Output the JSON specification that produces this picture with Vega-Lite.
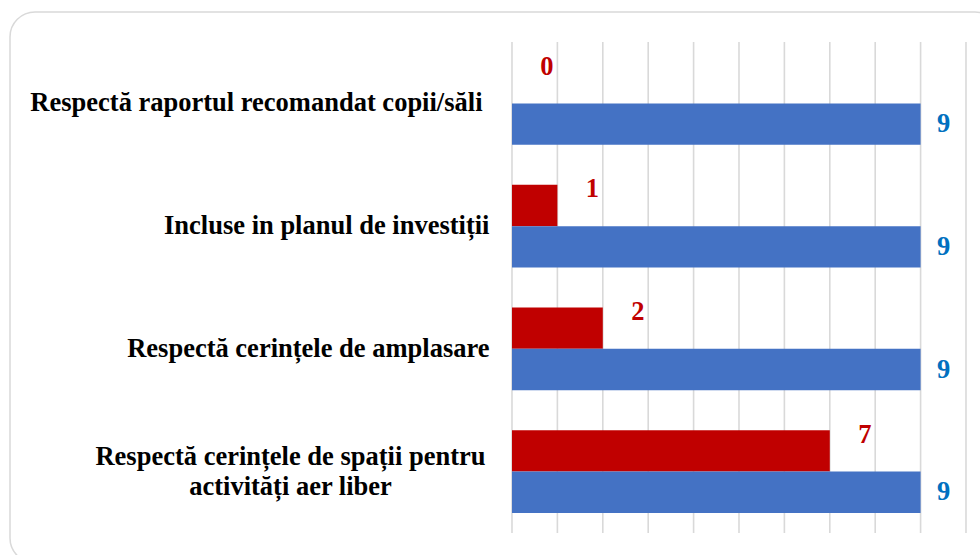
{
  "$schema": "https://vega.github.io/schema/vega-lite/v6.json",
  "width": 990,
  "height": 551,
  "autosize": {"type": "none"},
  "padding": {"left": 10, "top": 12, "right": -20, "bottom": -8},
  "background": "white",
  "config": {"view": {"stroke": "#d9d9d9", "strokeWidth": 1.5, "cornerRadius": 25}},
  "datasets": {
    "bars": [
      {"cat": "Respectă raportul recomandat copii/săli", "series": "realizat", "value": 0},
      {"cat": "Respectă raportul recomandat copii/săli", "series": "total", "value": 9},
      {"cat": "Incluse in planul de investiții", "series": "realizat", "value": 1},
      {"cat": "Incluse in planul de investiții", "series": "total", "value": 9},
      {"cat": "Respectă cerințele de amplasare", "series": "realizat", "value": 2},
      {"cat": "Respectă cerințele de amplasare", "series": "total", "value": 9},
      {"cat": "Respectă cerințele de spații pentru activități aer liber", "series": "realizat", "value": 7},
      {"cat": "Respectă cerințele de spații pentru activități aer liber", "series": "total", "value": 9}
    ],
    "grid": [{"g": 0}, {"g": 1}, {"g": 2}, {"g": 3}, {"g": 4}, {"g": 5}, {"g": 6}, {"g": 7}, {"g": 8}, {"g": 9}, {"g": 10}]
  },
  "layer": [
    {
      "data": {"name": "grid"},
      "mark": {"type": "rule", "color": "#d9d9d9", "strokeWidth": 1.6},
      "encoding": {
        "x": {"field": "g", "type": "quantitative", "scale": {"domain": [-11.057, 10.749], "nice": false, "zero": false}, "axis": null},
        "y": {"datum": "Respectă raportul recomandat copii/săli", "type": "nominal", "bandPosition": 0,
              "scale": {"domain": ["Respectă raportul recomandat copii/săli", "Incluse in planul de investiții", "Respectă cerințele de amplasare", "Respectă cerințele de spații pentru activități aer liber"], "paddingInner": 0, "paddingOuter": 0.2444}},
        "y2": {"datum": "Respectă cerințele de spații pentru activități aer liber", "bandPosition": 1}
      }
    },
    {
      "data": {"name": "bars"},
      "mark": {"type": "bar"},
      "encoding": {
        "x": {"field": "value", "type": "quantitative", "scale": {"domain": [-11.057, 10.749], "nice": false, "zero": false}, "axis": null},
        "y": {"field": "cat", "type": "nominal", "sort": null,
              "scale": {"domain": ["Respectă raportul recomandat copii/săli", "Incluse in planul de investiții", "Respectă cerințele de amplasare", "Respectă cerințele de spații pentru activități aer liber"], "paddingInner": 0, "paddingOuter": 0.2444},
              "axis": {
                "domain": false, "ticks": false, "grid": false, "title": null,
                "labelFont": "Liberation Serif", "labelFontWeight": "bold", "labelFontSize": 26.5, "labelColor": "black",
                "labelLimit": 800, "labelLineHeight": 30, "labelBaseline": "middle",
                "labelAlign": {"condition": {"test": "datum.value == 'Respectă cerințele de spații pentru activități aer liber'", "value": "center"}, "value": "right"},
                "labelOffset": {"condition": {"test": "datum.value == 'Respectă cerințele de spații pentru activități aer liber'", "value": -15}, "value": 0},
                "labelPadding": {"condition": [
                  {"test": "datum.value == 'Respectă cerințele de spații pentru activități aer liber'", "value": -280},
                  {"test": "datum.value == 'Respectă raportul recomandat copii/săli'", "value": -472}
                ], "value": -479},
                "labelExpr": "datum.value == 'Respectă cerințele de spații pentru activități aer liber' ? ['Respectă cerințele de spații pentru', 'activități aer liber'] : datum.label"
              }},
        "yOffset": {"field": "series", "type": "nominal", "scale": {"domain": ["realizat", "total"], "paddingInner": 0, "paddingOuter": 0.48}},
        "color": {"field": "series", "type": "nominal", "scale": {"domain": ["realizat", "total"], "range": ["#C00000", "#4472C4"]}, "legend": null}
      }
    },
    {
      "data": {"name": "bars"},
      "transform": [{"filter": "datum.series == 'realizat'"}],
      "mark": {"type": "text", "align": "center", "baseline": "middle", "dx": 35, "dy": -16, "font": "Liberation Serif", "fontWeight": "bold", "fontSize": 26.5, "color": "#C00000"},
      "encoding": {
        "x": {"field": "value", "type": "quantitative"},
        "y": {"field": "cat", "type": "nominal"},
        "yOffset": {"field": "series", "type": "nominal", "scale": {"domain": ["realizat", "total"], "paddingInner": 0, "paddingOuter": 0.48}},
        "text": {"field": "value", "type": "quantitative"}
      }
    },
    {
      "data": {"name": "bars"},
      "transform": [{"filter": "datum.series == 'total'"}],
      "mark": {"type": "text", "align": "center", "baseline": "middle", "dx": 23, "dy": 0, "font": "Liberation Serif", "fontWeight": "bold", "fontSize": 26.5, "color": "#0070C0"},
      "encoding": {
        "x": {"field": "value", "type": "quantitative"},
        "y": {"field": "cat", "type": "nominal"},
        "yOffset": {"field": "series", "type": "nominal", "scale": {"domain": ["realizat", "total"], "paddingInner": 0, "paddingOuter": 0.48}},
        "text": {"field": "value", "type": "quantitative"}
      }
    }
  ]
}
